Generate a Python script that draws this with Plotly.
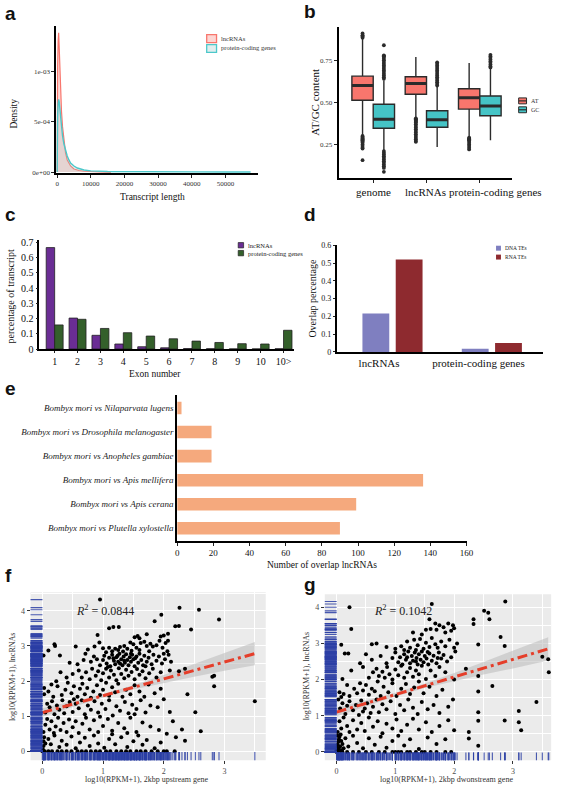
import plotly.graph_objects as go

W, H = 567, 791
SERIF = "Liberation Serif"
SANS = "Liberation Sans"

# ------------------------------------------------------------------ data
# (a) transcript length density (density in units of 1e-3)
lnc_len = [0, 0, 150, 300, 450, 600, 750, 900, 1100, 1300, 1600, 2000, 2500, 3000, 4000, 5000, 6500, 8000, 10000, 13000, 16000]
lnc_dens = [0, 0.55, 1.05, 1.30, 1.38, 1.25, 1.10, 0.92, 0.74, 0.60, 0.45, 0.30, 0.19, 0.12, 0.06, 0.03, 0.015, 0.008, 0.004, 0.002, 0.0]
pc_len = [0, 0, 150, 300, 450, 600, 800, 1000, 1300, 1600, 2000, 2500, 3000, 3500, 4000, 5000, 6000, 8000, 10000, 15000, 20000, 30000, 40000, 50000, 57500]
pc_dens = [0, 0.35, 0.55, 0.68, 0.72, 0.70, 0.62, 0.52, 0.43, 0.36, 0.28, 0.21, 0.16, 0.12, 0.09, 0.06, 0.04, 0.02, 0.012, 0.006, 0.004, 0.002, 0.0015, 0.001, 0.0]
a_xticks = [0, 10000, 20000, 30000, 40000, 50000]
a_yticks = [0, 5e-4, 1e-3]
a_yticklabels = ["0e+00", "5e-04", "1e-03"]

# (b) AT / GC content boxplots
b_groups = ["genome", "lncRNAs", "protein-coding genes"]
b_at_q1 = [0.513, 0.548, 0.460]
b_at_med = [0.600, 0.613, 0.528]
b_at_q3 = [0.656, 0.652, 0.581]
b_at_lo = [0.303, 0.410, 0.293]
b_at_hi = [0.880, 0.770, 0.734]
b_gc_q1 = [0.346, 0.352, 0.420]
b_gc_med = [0.400, 0.397, 0.479]
b_gc_q3 = [0.489, 0.450, 0.538]
b_gc_lo = [0.215, 0.234, 0.274]
b_gc_hi = [0.630, 0.597, 0.705]
b_at_out = [
    [0.885, 0.89, 0.895, 0.90, 0.91, 0.30, 0.295, 0.29, 0.285, 0.28, 0.275, 0.27, 0.265, 0.26, 0.25, 0.24, 0.23, 0.225, 0.156],
    [0.405, 0.40, 0.395, 0.39, 0.385, 0.38, 0.37, 0.36, 0.35, 0.34, 0.33, 0.32, 0.31, 0.30, 0.29, 0.28, 0.27, 0.265],
    [0.29, 0.285, 0.28, 0.275, 0.27, 0.26, 0.25, 0.24, 0.23, 0.22],
]
b_gc_out = [
    [0.84, 0.78, 0.775, 0.77, 0.76, 0.75, 0.74, 0.73, 0.72, 0.71, 0.70, 0.69, 0.68, 0.67, 0.66, 0.65, 0.64,
     0.21, 0.20, 0.19, 0.18, 0.17, 0.16, 0.15, 0.14, 0.13, 0.12, 0.11, 0.087],
    [0.738, 0.73, 0.72, 0.71, 0.70, 0.69, 0.68, 0.67, 0.66, 0.65, 0.64, 0.63, 0.62, 0.61, 0.60],
    [0.783, 0.775, 0.765, 0.755, 0.745, 0.735, 0.725, 0.715, 0.708],
]
b_yticks = [0.25, 0.50, 0.75]

# (c) exon number distribution
c_exon = ["1", "2", "3", "4", "5", "6", "7", "8", "9", "10", "10>"]
c_lnc = [0.665, 0.203, 0.090, 0.033, 0.015, 0.008, 0.003, 0.002, 0.001, 0.001, 0.002]
c_pc = [0.158, 0.195, 0.135, 0.107, 0.085, 0.067, 0.052, 0.043, 0.035, 0.033, 0.123]
c_yticks = [0, 0.1, 0.2, 0.3, 0.4, 0.5, 0.6, 0.7]

# (d) TE overlap
d_groups = ["lncRNAs", "protein-coding genes"]
d_dna = [0.216, 0.018]
d_rna = [0.520, 0.050]
d_yticks = [0, 0.1, 0.2, 0.3, 0.4, 0.5, 0.6]

# (e) conserved lncRNAs
e_species = ["Bombyx mori vs Nilaparvata lugens",
             "Bombyx mori vs Drosophila melanogaster",
             "Bombyx mori vs Anopheles gambiae",
             "Bombyx mori vs Apis mellifera",
             "Bombyx mori vs Apis cerana",
             "Bombyx mori vs Plutella xylostella"]
e_counts = [2.4, 19, 19, 136, 99, 90]
e_xticks = [0, 20, 40, 60, 80, 100, 120, 140, 160]

# (f) lncRNA vs upstream gene expression
f_pts = [
    (0.95, 4.32), (2.26, 4.09), (2.58, 4.03), (2.91, 3.75), (1.85, 3.70), (1.96, 3.89), (1.17, 3.54), (1.26, 3.54),
    (1.10, 3.50), (0.91, 3.31), (2.19, 3.56), (2.25, 3.57), (2.45, 3.47), (1.72, 3.33), (1.95, 3.27), (2.00, 3.30),
    (2.07, 3.35), (1.52, 3.25), (1.60, 3.22), (2.07, 3.15), (1.57, 3.28),
    (0.20, 3.05), (0.21, 3.00), (0.10, 2.87), (0.94, 3.10), (0.55, 2.98), (1.00, 2.93), (1.10, 2.95), (1.20, 2.92),
    (1.28, 2.97), (1.35, 3.00), (1.45, 3.10), (1.50, 3.05), (1.55, 2.95), (1.62, 3.08), (1.68, 3.12), (1.72, 3.00),
    (1.78, 3.06), (1.82, 2.98), (1.88, 3.02), (1.93, 3.15), (1.98, 2.95), (2.03, 3.08), (1.40, 2.92), (1.15, 2.85),
    (1.25, 2.88), (1.33, 2.84), (1.60, 2.88), (0.86, 2.98), (0.75, 2.90), (2.06, 2.85), (1.76, 2.85), (1.47, 2.86),
    (1.05, 2.82),
    (0.02, 2.73), (0.29, 2.73), (0.71, 2.78), (0.58, 2.48), (0.80, 2.55), (0.85, 2.70), (0.90, 2.62), (0.95, 2.45),
    (1.00, 2.60), (1.02, 2.72), (1.06, 2.50), (1.10, 2.66), (1.12, 2.42), (1.15, 2.75), (1.18, 2.58), (1.20, 2.48),
    (1.22, 2.68), (1.25, 2.55), (1.27, 2.78), (1.30, 2.62), (1.32, 2.45), (1.34, 2.70), (1.36, 2.52), (1.38, 2.76),
    (1.40, 2.60), (1.42, 2.45), (1.44, 2.68), (1.46, 2.55), (1.48, 2.75), (1.50, 2.62), (1.52, 2.42), (1.55, 2.70),
    (1.58, 2.52), (1.60, 2.78), (1.63, 2.60), (1.66, 2.45), (1.68, 2.72), (1.72, 2.55), (1.75, 2.66), (1.80, 2.48),
    (1.83, 2.75), (1.88, 2.58), (1.92, 2.70), (1.97, 2.50), (2.02, 2.62), (2.08, 2.75), (2.12, 2.55), (2.00, 2.78),
    (1.28, 2.50), (1.17, 2.65), (1.35, 2.58), (1.53, 2.65), (1.70, 2.42), (0.68, 2.60), (0.45, 2.52), (1.08, 2.40),
    (1.24, 2.72), (1.46, 2.78),
    (0.23, 1.99), (0.50, 2.20), (0.60, 2.30), (0.65, 2.10), (0.72, 2.25), (0.78, 2.05), (0.82, 2.35), (0.88, 2.15),
    (0.92, 2.28), (0.97, 2.02), (1.00, 2.22), (1.05, 2.35), (1.10, 2.10), (1.13, 2.30), (1.18, 2.18), (1.22, 2.02),
    (1.26, 2.36), (1.30, 2.20), (1.35, 2.08), (1.38, 2.32), (1.42, 2.15), (1.47, 2.26), (1.52, 2.05), (1.56, 2.34),
    (1.60, 2.18), (1.65, 2.28), (1.70, 2.08), (1.76, 2.22), (1.82, 2.35), (1.88, 2.10), (1.95, 2.25), (2.10, 2.30),
    (2.25, 2.28), (2.35, 2.35), (2.83, 2.15), (2.80, 2.12), (0.40, 2.10), (0.30, 2.25),
    (0.03, 1.80), (0.03, 1.62), (0.10, 1.70), (0.18, 1.55), (0.25, 1.85), (0.32, 1.60), (0.38, 1.75), (0.42, 1.95),
    (0.48, 1.65), (0.52, 1.85), (0.58, 1.55), (0.62, 1.78), (0.66, 1.92), (0.70, 1.62), (0.74, 1.80), (0.80, 1.52),
    (0.84, 1.70), (0.90, 1.88), (0.95, 1.60), (1.00, 1.75), (1.05, 1.95), (1.10, 1.58), (1.15, 1.82), (1.20, 1.68),
    (1.25, 1.92), (1.32, 1.55), (1.38, 1.75), (1.45, 1.62), (1.52, 1.88), (1.60, 1.70), (1.68, 1.55), (1.75, 1.90),
    (1.85, 1.65), (2.39, 1.62), (2.83, 1.85), (1.95, 1.78), (0.15, 1.90),
    (0.05, 1.10), (0.08, 1.35), (0.12, 1.25), (0.16, 1.42), (0.20, 1.05), (0.24, 1.30), (0.28, 1.18), (0.33, 1.45),
    (0.36, 1.08), (0.40, 1.28), (0.45, 1.40), (0.50, 1.12), (0.55, 1.35), (0.60, 1.22), (0.65, 1.45), (0.70, 1.05),
    (0.75, 1.30), (0.80, 1.18), (0.86, 1.42), (0.92, 1.10), (0.98, 1.35), (1.04, 1.20), (1.10, 1.45), (1.16, 1.02),
    (1.22, 1.28), (1.28, 1.15), (1.36, 1.40), (1.42, 1.08), (1.48, 1.32), (1.55, 1.20), (1.62, 1.45), (1.70, 1.10),
    (1.78, 1.30), (1.90, 1.25), (2.00, 1.48), (2.10, 1.12), (2.52, 1.11), (3.50, 1.42), (1.52, 1.05), (0.52, 1.48),
    (0.02, 0.55), (0.05, 0.75), (0.08, 0.92), (0.12, 0.62), (0.15, 0.85), (0.19, 0.52), (0.22, 0.70), (0.26, 0.95),
    (0.30, 0.60), (0.35, 0.80), (0.40, 0.55), (0.44, 0.90), (0.50, 0.68), (0.55, 0.85), (0.60, 0.52), (0.66, 0.78),
    (0.72, 0.95), (0.78, 0.62), (0.85, 0.88), (0.92, 0.55), (1.00, 0.72), (1.08, 0.92), (1.15, 0.58), (1.25, 0.80),
    (1.35, 0.65), (1.45, 0.95), (1.55, 0.55), (1.65, 0.82), (1.78, 0.70), (1.92, 0.60), (2.05, 0.50), (2.15, 0.85),
    (2.30, 0.62), (2.61, 0.57), (0.95, 0.98), (1.40, 0.52),
    (0.01, 0.05), (0.02, 0.15), (0.02, 0.28), (0.03, 0.40), (0.10, 0.35), (0.14, 0.20), (0.20, 0.45), (0.28, 0.12),
    (0.32, 0.30), (0.40, 0.18), (0.48, 0.42), (0.55, 0.08), (0.62, 0.25), (0.70, 0.38), (0.78, 0.15), (0.85, 0.45),
    (0.92, 0.22), (1.02, 0.10), (1.10, 0.35), (1.20, 0.20), (1.30, 0.40), (1.40, 0.12), (1.50, 0.28), (1.58, 0.45),
    (1.65, 0.18), (1.72, 0.32), (1.85, 0.08), (1.95, 0.25), (2.20, 0.40), (2.35, 0.30), (0.05, 0.22), (1.15, 0.48),
    (0.00, 0.0), (0.02, 0.0), (0.04, 0.0), (0.10, 0.0), (0.16, 0.0), (0.25, 0.0), (0.32, 0.0), (0.40, 0.0),
    (0.48, 0.0), (0.58, 0.0), (0.65, 0.0), (0.72, 0.0), (0.80, 0.0), (0.88, 0.0), (0.95, 0.0), (1.05, 0.0),
    (1.12, 0.0), (1.22, 0.0), (1.30, 0.0), (1.38, 0.0), (1.45, 0.0), (1.55, 0.0), (1.62, 0.0), (1.70, 0.0),
    (1.80, 0.0), (1.90, 0.0), (2.00, 0.0), (2.05, 0.0), (2.18, 0.0),
]
f_fit_x = [0.0, 3.5]
f_fit_y = [1.10, 2.78]
f_band_x = [0.0, 0.5, 1.0, 1.5, 2.0, 2.5, 3.0, 3.5]
f_band_lo = [0.98, 1.26, 1.53, 1.76, 1.95, 2.12, 2.29, 2.45]
f_band_hi = [1.22, 1.42, 1.63, 1.88, 2.17, 2.48, 2.79, 3.11]
f_r2 = "0.0844"

# (g) lncRNA vs downstream gene expression
g_pts = [
    (0.22, 4.00), (1.62, 4.09), (1.58, 3.67), (2.51, 3.90), (2.58, 3.85), (2.60, 3.67), (2.87, 4.16), (2.33, 3.67),
    (2.33, 3.54), (0.25, 3.40), (1.68, 3.55), (1.75, 3.50), (1.82, 3.45), (1.90, 3.55), (1.98, 3.50), (2.00, 3.42),
    (1.60, 3.40), (1.70, 3.38), (1.85, 3.30), (1.95, 3.35), (2.79, 3.18), (1.30, 3.30), (1.45, 3.25), (1.52, 3.38),
    (0.08, 2.96), (0.60, 2.98), (0.68, 3.00), (1.00, 2.85), (1.10, 2.92), (1.20, 3.05), (1.25, 2.88), (1.32, 3.10),
    (1.38, 2.95), (1.42, 3.12), (1.48, 2.85), (1.52, 3.02), (1.58, 2.90), (1.62, 3.15), (1.68, 2.98), (1.72, 2.88),
    (1.78, 3.05), (1.85, 2.92), (1.92, 3.10), (2.00, 2.88), (2.05, 3.00), (1.15, 2.82), (2.41, 2.97), (2.86, 2.93),
    (1.35, 2.82), (0.85, 2.90),
    (0.14, 2.72), (0.20, 2.72), (0.50, 2.70), (0.60, 2.55), (0.75, 2.65), (0.85, 2.45), (0.95, 2.60), (1.00, 2.75),
    (1.05, 2.48), (1.08, 2.62), (1.12, 2.42), (1.15, 2.70), (1.18, 2.55), (1.22, 2.78), (1.25, 2.45), (1.28, 2.65),
    (1.30, 2.52), (1.33, 2.75), (1.36, 2.60), (1.38, 2.42), (1.40, 2.70), (1.43, 2.55), (1.45, 2.78), (1.48, 2.48),
    (1.50, 2.65), (1.53, 2.58), (1.56, 2.42), (1.58, 2.72), (1.62, 2.52), (1.65, 2.66), (1.70, 2.45), (1.74, 2.75),
    (1.78, 2.58), (1.82, 2.68), (1.88, 2.50), (1.95, 2.62), (2.02, 2.78), (3.50, 2.63), (3.60, 2.56), (1.20, 2.62),
    (1.35, 2.50), (1.55, 2.76), (1.72, 2.60), (0.40, 2.45),
    (0.45, 2.35), (0.55, 2.05), (0.62, 2.20), (0.68, 2.30), (0.72, 2.10), (0.78, 2.22), (0.82, 2.05), (0.86, 2.35),
    (0.90, 2.15), (0.95, 2.00), (1.00, 2.28), (1.05, 2.12), (1.10, 2.38), (1.15, 2.05), (1.20, 2.20), (1.25, 2.32),
    (1.30, 2.08), (1.35, 2.25), (1.40, 2.15), (1.45, 2.38), (1.52, 2.02), (1.60, 2.25), (1.68, 2.10), (1.75, 2.35),
    (1.85, 2.20), (2.00, 2.00), (2.20, 2.30), (2.41, 2.10), (3.61, 2.20), (0.10, 2.02), (0.25, 2.25),
    (0.05, 1.65), (0.12, 1.60), (0.18, 1.85), (0.22, 1.55), (0.30, 1.75), (0.35, 1.62), (0.40, 1.90), (0.45, 1.70),
    (0.50, 1.85), (0.55, 1.58), (0.60, 1.75), (0.65, 1.68), (0.70, 1.95), (0.75, 1.55), (0.80, 1.80), (0.88, 1.65),
    (0.95, 1.90), (1.02, 1.55), (1.10, 1.75), (1.18, 1.88), (1.25, 1.60), (1.32, 1.78), (1.40, 1.95), (1.48, 1.62),
    (1.58, 1.80), (1.70, 1.55), (1.80, 1.72), (2.65, 1.82), (2.41, 1.67), (1.98, 1.45), (0.08, 1.52),
    (0.03, 1.45), (0.06, 1.20), (0.10, 1.35), (0.15, 1.05), (0.18, 1.28), (0.22, 1.40), (0.28, 1.15), (0.33, 1.30),
    (0.38, 1.02), (0.42, 1.42), (0.48, 1.20), (0.52, 1.35), (0.58, 1.08), (0.62, 1.25), (0.68, 1.45), (0.72, 1.10),
    (0.78, 1.32), (0.85, 1.18), (0.92, 1.40), (1.00, 1.05), (1.08, 1.30), (1.15, 1.15), (1.22, 1.45), (1.30, 1.22),
    (1.38, 1.05), (1.45, 1.38), (1.55, 1.18), (1.65, 1.30), (1.75, 1.08), (1.90, 1.25), (2.41, 1.10), (3.10, 1.13),
    (3.40, 1.38), (0.45, 1.12),
    (0.02, 0.55), (0.05, 0.85), (0.08, 0.65), (0.12, 0.95), (0.18, 0.72), (0.22, 0.55), (0.28, 0.88), (0.35, 0.62),
    (0.42, 0.80), (0.48, 0.58), (0.55, 0.95), (0.62, 0.70), (0.70, 0.85), (0.78, 0.52), (0.85, 0.78), (0.95, 0.65),
    (1.02, 0.90), (1.10, 0.58), (1.20, 0.75), (1.30, 0.92), (1.40, 0.62), (1.52, 0.82), (1.62, 0.55), (1.75, 0.72),
    (1.90, 0.88), (2.00, 0.60), (2.25, 0.55), (2.41, 0.86), (2.86, 0.87), (3.10, 0.82), (3.14, 0.60),
    (0.00, 0.05), (0.01, 0.12), (0.02, 0.20), (0.03, 0.28), (0.04, 0.35), (0.05, 0.42), (0.06, 0.15), (0.08, 0.30),
    (0.10, 0.22), (0.12, 0.10), (0.02, 0.45), (0.07, 0.48), (0.15, 0.38), (0.20, 0.15), (0.28, 0.45), (0.35, 0.25),
    (0.45, 0.10), (0.55, 0.38), (0.65, 0.20), (0.75, 0.42), (0.85, 0.12), (0.95, 0.30), (1.05, 0.45), (1.15, 0.18),
    (1.25, 0.35), (1.40, 0.08), (1.55, 0.40), (1.70, 0.22), (1.85, 0.35), (2.25, 0.37), (2.41, 0.17), (0.04, 0.08),
    (0.09, 0.05),
    (0.00, 0.0), (0.02, 0.0), (0.05, 0.0), (0.10, 0.0), (0.18, 0.0), (0.28, 0.0), (0.38, 0.0), (0.50, 0.0),
    (0.60, 0.0), (0.72, 0.0), (0.82, 0.0), (0.95, 0.0), (1.00, 0.0), (1.05, 0.0), (1.10, 0.0), (1.20, 0.0),
    (1.25, 0.0), (1.35, 0.0), (1.45, 0.0), (1.50, 0.0), (1.60, 0.0), (1.70, 0.0), (1.85, 0.0), (1.95, 0.0),
]
g_fit_x = [0.0, 3.6]
g_fit_y = [1.10, 2.85]
g_band_x = [0.0, 0.5, 1.0, 1.5, 2.0, 2.5, 3.0, 3.6]
g_band_lo = [0.98, 1.26, 1.53, 1.77, 1.96, 2.14, 2.31, 2.53]
g_band_hi = [1.22, 1.43, 1.64, 1.89, 2.18, 2.49, 2.81, 3.17]
g_r2 = "0.1042"

# ------------------------------------------------------------------ helpers
def XD(a, b):
    return [a / W, b / W]

def YD(top, bottom):
    return [1 - bottom / H, 1 - top / H]

def PX(x):
    return x / W

def PY(y):
    return 1 - y / H

AT_COL = "#F8766D"
GC_COL = "#45C4C6"
BOX_LINE = "#2B2B2B"
RUG = "rgba(42,62,165,0.85)"

fig = go.Figure()
annotations = []
shapes = []

def ann(text, x, y, size, family=SERIF, color="#111", xanchor="center", yanchor="middle", angle=0, **kw):
    annotations.append(dict(text=text, x=PX(x), y=PY(y), xref="paper", yref="paper", showarrow=False,
                            font=dict(size=size, family=family, color=color), xanchor=xanchor,
                            yanchor=yanchor, textangle=angle, **kw))

# ------------------------------------------------------------------ (a)
fig.add_trace(go.Scatter(x=lnc_len, y=[v * 1e-3 for v in lnc_dens], mode="lines", fill="tozeroy",
                         line=dict(color=AT_COL, width=1.2), fillcolor="rgba(248,118,109,0.28)",
                         xaxis="x", yaxis="y", showlegend=False))
fig.add_trace(go.Scatter(x=pc_len, y=[v * 1e-3 for v in pc_dens], mode="lines", fill="tozeroy",
                         line=dict(color="#4CC8CA", width=1.4), fillcolor="rgba(160,200,200,0.25)",
                         xaxis="x", yaxis="y", showlegend=False))

# ------------------------------------------------------------------ (b)
for gi, g in enumerate(b_groups):
    for off, q1, med, q3, lo, hi, col, outs in (
        (-0.2, b_at_q1, b_at_med, b_at_q3, b_at_lo, b_at_hi, AT_COL, b_at_out),
        (0.2, b_gc_q1, b_gc_med, b_gc_q3, b_gc_lo, b_gc_hi, GC_COL, b_gc_out),
    ):
        xpos = gi + 1 + off
        fig.add_trace(go.Box(x=[xpos], q1=[q1[gi]], median=[med[gi]], q3=[q3[gi]], lowerfence=[lo[gi]],
                             upperfence=[hi[gi]], width=0.4, whiskerwidth=0, fillcolor=col,
                             line=dict(color=BOX_LINE, width=1.4), xaxis="x2", yaxis="y2",
                             showlegend=False, hoverinfo="skip"))
        fig.add_trace(go.Scatter(x=[xpos - 0.2, xpos + 0.2], y=[med[gi], med[gi]], mode="lines",
                                 line=dict(color=BOX_LINE, width=3), xaxis="x2", yaxis="y2", showlegend=False))
        fig.add_trace(go.Scatter(x=[xpos] * len(outs[gi]), y=outs[gi], mode="markers",
                                 marker=dict(color=BOX_LINE, size=3.8), xaxis="x2", yaxis="y2", showlegend=False))

# ------------------------------------------------------------------ (c)
cx = list(range(1, len(c_exon) + 1))
fig.add_trace(go.Bar(x=cx, y=c_lnc, width=0.37, offset=-0.37, marker=dict(color="#6A2D94", line=dict(color="#222", width=0.8)),
                     xaxis="x3", yaxis="y3", showlegend=False))
fig.add_trace(go.Bar(x=cx, y=c_pc, width=0.37, offset=0.0, marker=dict(color="#34602B", line=dict(color="#222", width=0.8)),
                     xaxis="x3", yaxis="y3", showlegend=False))

# ------------------------------------------------------------------ (d)
dx_ = [0, 1]
fig.add_trace(go.Bar(x=dx_, y=d_dna, width=0.27, offset=-0.30, marker=dict(color="#7F7FC0", line=dict(width=0)),
                     xaxis="x4", yaxis="y4", showlegend=False))
fig.add_trace(go.Bar(x=dx_, y=d_rna, width=0.27, offset=0.035, marker=dict(color="#8E2A2F", line=dict(width=0)),
                     xaxis="x4", yaxis="y4", showlegend=False))

# ------------------------------------------------------------------ (e)
ey = list(range(len(e_species)))[::-1]
fig.add_trace(go.Bar(y=ey, x=e_counts, orientation="h", width=0.52, marker=dict(color="#F5A97D", line=dict(width=0)),
                     xaxis="x5", yaxis="y5", showlegend=False))

# ------------------------------------------------------------------ (f), (g)
def scatter_panel(pts, fit_x, fit_y, bx, blo, bhi, xa, ya, rug_y, rug_x):
    xs = [p[0] for p in pts]
    ys = [p[1] for p in pts]
    fig.add_trace(go.Scatter(x=bx + bx[::-1], y=blo + bhi[::-1], fill="toself", mode="lines",
                             line=dict(width=0), fillcolor="rgba(185,185,185,0.55)",
                             xaxis=xa, yaxis=ya, showlegend=False, hoverinfo="skip"))
    fig.add_trace(go.Scatter(x=xs, y=ys, mode="markers", marker=dict(color="black", size=4),
                             xaxis=xa, yaxis=ya, showlegend=False))
    fig.add_trace(go.Scatter(x=fit_x, y=fit_y, mode="lines",
                             line=dict(color="#E53E2A", width=3, dash="10px,4px,3px,4px"),
                             xaxis=xa, yaxis=ya, showlegend=False))
    fig.add_trace(go.Scatter(x=xs, y=[rug_y] * len(xs), mode="markers",
                             marker=dict(symbol="line-ns-open", size=7, color=RUG, line=dict(width=1.1, color=RUG)),
                             xaxis=xa, yaxis=ya, showlegend=False))
    fig.add_trace(go.Scatter(x=[rug_x] * len(ys), y=ys, mode="markers",
                             marker=dict(symbol="line-ew-open", size=10, color=RUG, line=dict(width=1.1, color=RUG)),
                             xaxis=xa, yaxis=ya, showlegend=False))

scatter_panel(f_pts, f_fit_x, f_fit_y, f_band_x, f_band_lo, f_band_hi, "x6", "y6", -0.16, -0.113)
scatter_panel(g_pts, g_fit_x, g_fit_y, g_band_x, g_band_lo, g_band_hi, "x7", "y7", -0.15, -0.117)

# ------------------------------------------------------------------ axes
def ax(dom, rng, anchor, **kw):
    d = dict(domain=dom, range=rng, anchor=anchor, showgrid=False, zeroline=False, fixedrange=True)
    d.update(kw)
    return d

line_kw = dict(showline=True, linecolor="black", linewidth=1.6, ticks="outside", ticklen=3, tickcolor="#222", tickwidth=1)

layout_axes = dict(
    xaxis=ax(XD(55, 260), [-300, 59650], "y", tickvals=a_xticks, ticktext=[str(v) for v in a_xticks],
             tickfont=dict(size=7, family=SERIF, color="#333"), **line_kw),
    yaxis=ax(YD(22, 171), [-0.01e-3, 1.45e-3], "x", tickvals=a_yticks, ticktext=a_yticklabels,
             tickfont=dict(size=7, family=SERIF, color="#333"), **line_kw),
    xaxis2=ax(XD(342, 518), [0.35, 3.6], "y2", tickvals=[1, 2, 3], showticklabels=False, **line_kw),
    yaxis2=ax(YD(23, 176), [0.05, 0.95], "x2", tickvals=b_yticks, ticktext=["0.25", "0.50", "0.75"],
              tickfont=dict(size=7, family=SERIF, color="#333"), **line_kw),
    xaxis3=ax(XD(38, 297), [0.333, 11.47], "y3", tickvals=cx, ticktext=c_exon, tickangle=0,
              tickfont=dict(size=10, family=SERIF, color="#111"),
              showline=True, linecolor="black", linewidth=1.6, ticks="outside", ticklen=2, tickcolor="#222"),
    yaxis3=ax(YD(239, 349), [0, 0.713], "x3", tickvals=c_yticks, ticktext=["0", "0.1", "0.2", "0.3", "0.4", "0.5", "0.6", "0.7"],
              tickfont=dict(size=10, family=SERIF, color="#111"),
              showline=True, linecolor="black", linewidth=1.6, ticks="outside", ticklen=2, tickcolor="#222"),
    xaxis4=ax(XD(340, 550), [-0.56, 1.52], "y4", tickvals=[-0.1325, 0.8675], ticktext=d_groups, tickangle=0,
              tickfont=dict(size=11, family=SERIF, color="#111"), showline=True, linecolor="black", linewidth=1.6, ticks=""),
    yaxis4=ax(YD(244, 352), [0, 0.6], "x4", tickvals=d_yticks, ticktext=["0", "0.1", "0.2", "0.3", "0.4", "0.5", "0.6"],
              tickfont=dict(size=8, family=SERIF, color="#111"),
              showline=True, linecolor="black", linewidth=1.6, ticks="outside", ticklen=2, tickcolor="#222"),
    xaxis5=ax(XD(178, 472), [0, 160], "y5", tickvals=e_xticks, ticktext=[str(v) for v in e_xticks], tickangle=0,
              tickfont=dict(size=9, family=SERIF, color="#111"), **line_kw),
    yaxis5=ax(YD(396, 543), [-0.52, 5.52], "x5", tickvals=ey, ticktext=["<i>" + s + "</i>" for s in e_species],
              tickfont=dict(size=9, family=SERIF, color="#222"), showline=True, linecolor="black", linewidth=1.8, ticks=""),
)

grid_kw = dict(showgrid=True, gridcolor="white", gridwidth=1.2, ticks="outside", ticklen=3, tickcolor="#333",
               tickfont=dict(size=8, family=SERIF, color="#4D4D4D"), showline=False, tickangle=0)
layout_axes["xaxis6"] = ax(XD(29, 268), [-0.194, 3.68], "y6", tickvals=[0, 1, 2, 3],
                           minor=dict(tickvals=[0.5, 1.5, 2.5, 3.5], showgrid=True, gridcolor="white", gridwidth=0.6), **grid_kw)
layout_axes["yaxis6"] = ax(YD(595, 765), [-0.26, 4.53], "x6", tickvals=[0, 1, 2, 3, 4],
                           minor=dict(tickvals=[0.5, 1.5, 2.5, 3.5, 4.5], showgrid=True, gridcolor="white", gridwidth=0.6), **grid_kw)
layout_axes["xaxis7"] = ax(XD(328, 558), [-0.2, 3.65], "y7", tickvals=[0, 1, 2, 3],
                           minor=dict(tickvals=[0.5, 1.5, 2.5, 3.5], showgrid=True, gridcolor="white", gridwidth=0.6), **grid_kw)
layout_axes["yaxis7"] = ax(YD(597, 765), [-0.23, 4.36], "x7", tickvals=[0, 1, 2, 3, 4],
                           minor=dict(tickvals=[0.5, 1.5, 2.5, 3.5], showgrid=True, gridcolor="white", gridwidth=0.6), **grid_kw)

for xa, ya in (("x6", "y6"), ("x7", "y7")):
    shapes.append(dict(type="rect", xref=xa + " domain", yref=ya + " domain", x0=0, x1=1, y0=0, y1=1,
                       fillcolor="#EBEBEB", line=dict(width=0), layer="below"))

# ------------------------------------------------------------------ legends (keys)
# a
shapes.append(dict(type="rect", xref="paper", yref="paper", x0=PX(208), x1=PX(218), y0=PY(39), y1=PY(31),
                   fillcolor="rgba(248,118,109,0.3)", line=dict(color=AT_COL, width=1.3)))
shapes.append(dict(type="rect", xref="paper", yref="paper", x0=PX(208), x1=PX(218), y0=PY(49), y1=PY(41),
                   fillcolor="rgba(170,205,205,0.35)", line=dict(color="#4CC8CA", width=1.3)))
ann("lncRNAs", 221, 34.5, 6.5, xanchor="left", color="#333")
ann("protein-coding genes", 221, 44.5, 6.5, xanchor="left", color="#333")
# b
for yy, col, lab in ((98, AT_COL, "AT"), (107, GC_COL, "GC")):
    shapes.append(dict(type="rect", xref="paper", yref="paper", x0=PX(525), x1=PX(533), y0=PY(yy + 3), y1=PY(yy - 3),
                       fillcolor=col, line=dict(color=BOX_LINE, width=1)))
    shapes.append(dict(type="line", xref="paper", yref="paper", x0=PX(525), x1=PX(533), y0=PY(yy), y1=PY(yy),
                       line=dict(color=BOX_LINE, width=1.2)))
    ann(lab, 535, yy, 6, xanchor="left", color="#333")
# c
for yy, col, lab in ((244, "#6A2D94", "lncRNAs"), (252, "#34602B", "protein-coding genes")):
    shapes.append(dict(type="rect", xref="paper", yref="paper", x0=PX(240), x1=PX(245.5), y0=PY(yy + 2.7), y1=PY(yy - 2.7),
                       fillcolor=col, line=dict(color="#222", width=0.7)))
    ann(lab, 248, yy, 6.5, xanchor="left", color="#222")
# d
for yy, col, lab in ((247, "#7F7FC0", "DNA TEs"), (256, "#8E2A2F", "RNA TEs")):
    shapes.append(dict(type="rect", xref="paper", yref="paper", x0=PX(502), x1=PX(507), y0=PY(yy + 2.5), y1=PY(yy - 2.5),
                       fillcolor=col, line=dict(width=0)))
    ann(lab, 509, yy, 5.5, xanchor="left", color="#222")

# ------------------------------------------------------------------ category labels of (b)
ann(b_groups[0], 377, 190, 11)
ann(b_groups[1], 430, 190, 11)
ann(b_groups[2], 452, 190, 11, xanchor="left")

# ------------------------------------------------------------------ titles
ann("Density", 12, 111, 9.5, angle=-90)
ann("Transcript length", 153, 195, 9.5)
ann("AT/GC content", 318, 99, 11, angle=-90)
ann("percentage of transcript", 9, 295, 10, angle=-90)
ann("Exon number", 155, 374.5, 9.5)
ann("Overlap percentage", 316, 297, 10, angle=-90)
ann("Number of overlap lncRNAs", 325, 567, 9.5)
ann("log10(RPKM+1), 2kbp upstream gene", 147, 784.5, 8, color="#333")
ann("log10(RPKM+1), lncRNAs", 10, 680, 8, color="#333", angle=-90)
ann("log10(RPKM+1), 2kbp dwonstream gene", 452, 784.5, 8, color="#333")
ann("log10(RPKM+1), lncRNAs", 309, 680, 8, color="#333", angle=-90)

annotations.append(dict(text="<i>R</i><sup>2</sup> = " + f_r2, x=0.52, y=4.0, xref="x6", yref="y6", showarrow=False,
                        xanchor="left", yanchor="middle", font=dict(size=12, family=SERIF, color="#222")))
annotations.append(dict(text="<i>R</i><sup>2</sup> = " + g_r2, x=0.61, y=3.9, xref="x7", yref="y7", showarrow=False,
                        xanchor="left", yanchor="middle", font=dict(size=12, family=SERIF, color="#222")))

# panel letters
for lab, x, y in (("a", 1, 10), ("b", 305, 8), ("c", 1, 213), ("d", 305, 213), ("e", 1, 389), ("f", 1, 578), ("g", 305, 587)):
    ann("<b>" + lab + "</b>", x, y, 19, family=SANS, color="#111", xanchor="left")

fig.update_layout(
    width=W, height=H, margin=dict(l=0, r=0, t=0, b=0), autosize=False,
    paper_bgcolor="white", plot_bgcolor="rgba(0,0,0,0)", showlegend=False,
    barmode="overlay", boxmode="overlay",
    annotations=annotations, shapes=shapes, **layout_axes,
)

fig.write_html("out.html", config={"displayModeBar": False}, post_script="document.body.style.margin='0px';")
